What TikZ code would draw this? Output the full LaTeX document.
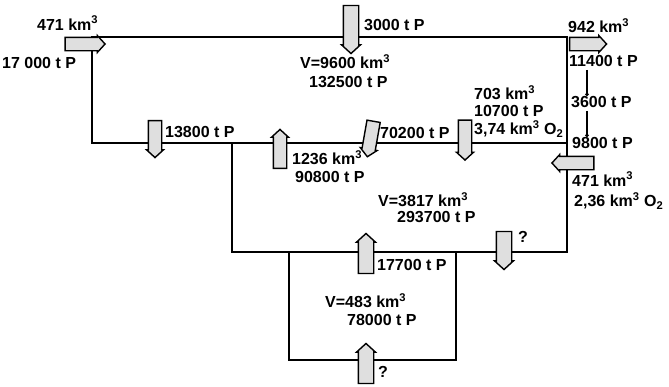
\documentclass[tikz,border=0pt]{standalone}
\usepackage{fontspec}
\setmainfont{Liberation Sans}
\usetikzlibrary{shapes.arrows,arrows.meta}
\tikzset{
  boxline/.style={line width=1.7pt, draw=black},
  flow/.style={single arrow, draw=black, line width=1.4pt, fill=gray!25,
    inner xsep=0pt, inner ysep=6pt, single arrow head extend=1.8pt,
    single arrow tip angle=95, single arrow head indent=0pt},
  wideflow/.style={flow, inner ysep=7pt},
  lbl/.style={anchor=west, inner sep=0pt, font=\fontsize{16}{16}\selectfont\bfseries},
  tickline/.style={line width=1.6pt, -{Circle[length=3.5pt]}},
}
\begin{document}
\begin{tikzpicture}[x=1pt,y=-1pt]
\useasboundingbox (0,0) rectangle (669,386);
% boxes
\draw[boxline] (92,37) rectangle (567,143);
\draw[boxline] (232,143) rectangle (567,252);
\draw[boxline] (289,252) rectangle (456,360);
% flow arrows
\node[flow, minimum height=40pt] (a1) at (82,44) {};
\node[wideflow, minimum height=48pt, rotate=-90] (a2) at (351,26) {};
\node[flow, minimum height=37pt] (a3) at (585,44) {};
\node[flow, minimum height=37pt, rotate=-90] (a4) at (155,136) {};
\node[flow, minimum height=39pt, rotate=90] (a5) at (280,152) {};
\node[flow, minimum height=36pt, rotate=-100] (a6) at (371,136) {};
\node[flow, minimum height=40pt, rotate=-90] (a7) at (465,137) {};
\node[flow, minimum height=42pt, rotate=180] (a8) at (576,163) {};
\node[wideflow, minimum height=38pt, rotate=-90] (a9) at (504,247) {};
\node[wideflow, minimum height=40pt, rotate=90] (a10) at (366,257) {};
\node[wideflow, minimum height=40pt, rotate=90] (a11) at (366,367) {};
% labels
\node[lbl] (t471a) at (37,23) {471 km\textsuperscript{3}};
\node[lbl] (t17000) at (2,63) {17 000 t P};
\node[lbl] (t3000) at (364,25) {3000 t P};
\node[lbl] (tV9600) at (300,62) {V=9600 km\textsuperscript{3}};
\node[lbl] (t132500) at (309,82) {132500 t P};
\node[lbl] (t13800) at (165,132) {13800 t P};
\node[lbl] (t1236) at (292,158) {1236 km\textsuperscript{3}};
\node[lbl] (t90800) at (295,177) {90800 t P};
\node[lbl] (t70200) at (380,133) {70200 t P};
\node[lbl] (t703) at (474,93) {703 km\textsuperscript{3}};
\node[lbl] (t10700) at (474,111) {10700 t P};
\node[lbl] (t374) at (474,129) {3,74 km\textsuperscript{3} O\textsubscript{2}};
\node[lbl] (t942) at (568,26) {942 km\textsuperscript{3}};
\node[lbl] (t11400) at (569,61) {11400 t P};
\node[lbl] (t3600) at (571,102) {3600 t P};
\node[lbl] (t9800) at (572,143) {9800 t P};
\node[lbl] (t471b) at (572,179) {471 km\textsuperscript{3}};
\node[lbl] (t236) at (574,201) {2,36 km\textsuperscript{3} O\textsubscript{2}};
\node[lbl] (tV3817) at (378,200) {V=3817 km\textsuperscript{3}};
\node[lbl] (t293700) at (397,217) {293700 t P};
\node[lbl] (tq1) at (518,237) {?};
\node[lbl] (t17700) at (377,265) {17700 t P};
\node[lbl] (tV483) at (325,301) {V=483 km\textsuperscript{3}};
\node[lbl] (t78000) at (347,320) {78000 t P};
\node[lbl] (tq2) at (378,372) {?};
% small connectors on the right
\coordinate (rx) at (587,0);
\draw[tickline] (t11400.south -| rx) ++(0,3) -- (t3600.north -| rx);
\draw[tickline] (t3600.south -| rx) ++(0,3) -- (t9800.north -| rx);
\end{tikzpicture}
\end{document}
